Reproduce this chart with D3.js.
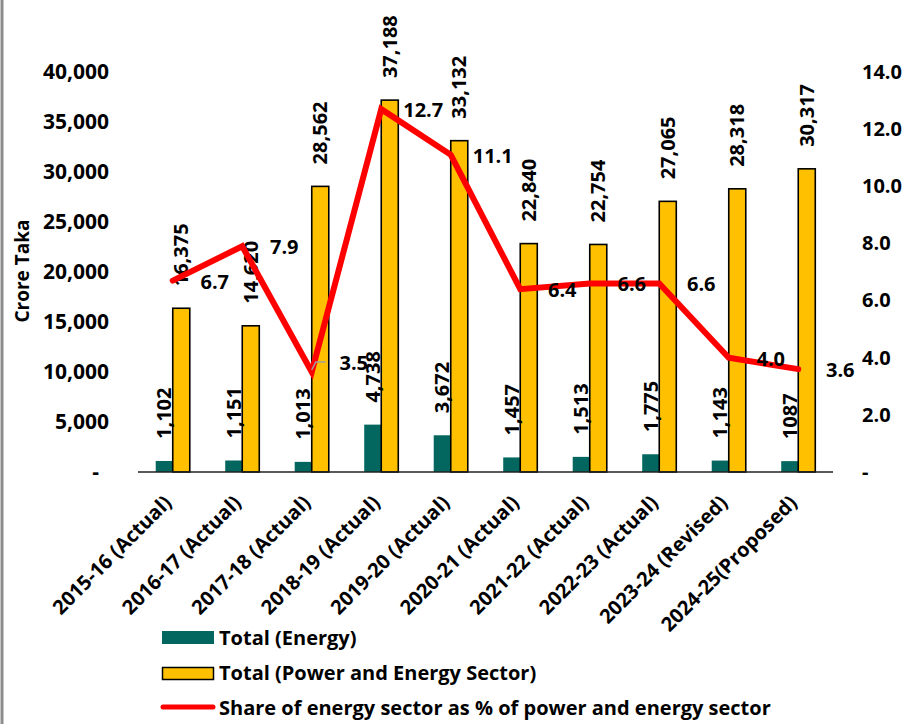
<!DOCTYPE html>
<html>
<head>
<meta charset="utf-8">
<script src="https://cdn.jsdelivr.net/npm/d3@7"></script>
<style>
  html, body { margin: 0; padding: 0; background: #fff; }
  svg { display: block; font-family: "Open Sans", Lato, sans-serif; font-weight: 700; }
</style>
</head>
<body>
<svg id="chart" width="907" height="724"></svg>
<script>
// Fiscal years
const categories = [
  "2015-16 (Actual)", "2016-17 (Actual)", "2017-18 (Actual)", "2018-19 (Actual)",
  "2019-20 (Actual)", "2020-21 (Actual)", "2021-22 (Actual)", "2022-23 (Actual)",
  "2023-24 (Revised)", "2024-25(Proposed)"
];
// Allocation, crore Taka
const energyTotal = [1102, 1151, 1013, 4738, 3672, 1457, 1513, 1775, 1143, 1087];
const powerEnergyTotal = [16375, 14620, 28562, 37188, 33132, 22840, 22754, 27065, 28318, 30317];
// Energy share of the power and energy sector, percent
const energyShare = [6.7, 7.9, 3.5, 12.7, 11.1, 6.4, 6.6, 6.6, 4.0, 3.6];
// Axis ticks
const leftTicks = [0, 5000, 10000, 15000, 20000, 25000, 30000, 35000, 40000];
const rightTicks = [0, 2, 4, 6, 8, 10, 12, 14];

const seriesNames = [
  "Total (Energy)",
  "Total (Power and Energy Sector)",
  "Share of energy sector as % of power and energy sector"
];
const colors = { energy: "#03675F", total: "#FFC000", share: "#FF0000" };
const FONT = "'Open Sans', Lato, sans-serif";

const svg = d3.select("#chart");

// Frame edge on the left
svg.append("line")
  .attr("x1", 2).attr("x2", 2).attr("y1", 0).attr("y2", 724)
  .attr("stroke", "#8c8c8c").attr("stroke-width", 3);

const x = d3.scaleBand().domain(categories).range([138, 833]);
const yL = d3.scaleLinear().domain([0, 40000]).range([472, 72]);
const yR = d3.scaleLinear().domain([0, 14]).range([472, 72]);
const barW = x.bandwidth() * 0.245;
const cx = d => x(d) + x.bandwidth() / 2;

const fmtComma = d3.format(",");
const fmtLeft = v => v === 0 ? "-" : fmtComma(v);
const fmtRight = v => v === 0 ? "-" : d3.format(".1f")(v);
// Energy labels as printed (the last value carries no thousands separator)
const energyLabel = (v, i) => i === energyTotal.length - 1 ? String(v) : fmtComma(v);

// Left axis
const leftAxis = d3.axisLeft(yL).tickValues(leftTicks).tickFormat(fmtLeft).tickSize(0).tickPadding(0);
const gL = svg.append("g").attr("transform", "translate(109,0)").call(leftAxis);
gL.select(".domain").remove();
gL.selectAll("text").attr("font-size", 21).attr("font-family", FONT).attr("font-weight", 700).attr("fill", "#000");
gL.selectAll(".tick").filter(d => d === 0).select("text").attr("dx", -10);

// Right axis
const rightAxis = d3.axisRight(yR).tickValues(rightTicks).tickFormat(fmtRight).tickSize(0).tickPadding(0);
const gR = svg.append("g").attr("transform", "translate(862,0)").call(rightAxis);
gR.select(".domain").remove();
gR.selectAll("text").attr("font-size", 20).attr("font-family", FONT).attr("font-weight", 700).attr("fill", "#000");

// Axis title
svg.append("text")
  .attr("transform", "translate(22,271) rotate(-90)")
  .attr("text-anchor", "middle").attr("dy", "0.35em")
  .attr("font-size", 19).text("Crore Taka");

// Bars
svg.append("g").selectAll("rect").data(categories).join("rect")
  .attr("x", d => cx(d) - barW)
  .attr("y", (d, i) => yL(energyTotal[i]))
  .attr("width", barW)
  .attr("height", (d, i) => yL(0) - yL(energyTotal[i]))
  .attr("fill", colors.energy);

svg.append("g").selectAll("rect").data(categories).join("rect")
  .attr("x", d => cx(d))
  .attr("y", (d, i) => yL(powerEnergyTotal[i]))
  .attr("width", barW)
  .attr("height", (d, i) => yL(0) - yL(powerEnergyTotal[i]))
  .attr("fill", colors.total)
  .attr("stroke", "#000").attr("stroke-width", 1.6);

// Category axis line
svg.append("line")
  .attr("x1", 138).attr("x2", 833).attr("y1", yL(0)).attr("y2", yL(0))
  .attr("stroke", "#222").attr("stroke-width", 1.5);

// Category labels
svg.append("g").selectAll("text").data(categories).join("text")
  .attr("transform", d => `translate(${cx(d)},${yL(0) + 32}) rotate(-45)`)
  .attr("text-anchor", "end")
  .attr("font-size", 20)
  .text(d => d);

// Bar value labels
svg.append("g").selectAll("text").data(categories).join("text")
  .attr("transform", (d, i) => `translate(${cx(d) - barW / 2},${yL(energyTotal[i]) - 22}) rotate(-90)`)
  .attr("dy", "0.35em").attr("font-size", 20)
  .text((d, i) => energyLabel(energyTotal[i], i));

svg.append("g").selectAll("text").data(categories).join("text")
  .attr("transform", (d, i) => `translate(${cx(d) + barW / 2},${yL(powerEnergyTotal[i]) - 22}) rotate(-90)`)
  .attr("dy", "0.35em").attr("font-size", 20)
  .text((d, i) => fmtComma(powerEnergyTotal[i]));

// Share line
const line = d3.line().x(d => cx(d[0])).y(d => yR(d[1]));
svg.append("path")
  .datum(categories.map((c, i) => [c, energyShare[i]]))
  .attr("d", line)
  .attr("fill", "none").attr("stroke", colors.share)
  .attr("stroke-width", 6).attr("stroke-linecap", "round");

// Leader for the 2017-18 share label
const lx = cx(categories[2]), ly = yR(energyShare[2]);
svg.append("path")
  .attr("d", `M${lx},${ly - 2} L${lx + 4},${ly - 10} L${lx + 14},${ly - 10}`)
  .attr("fill", "none").attr("stroke", "#a0a0a0").attr("stroke-width", 1.5);

// Share value labels
svg.append("g").selectAll("text").data(categories).join("text")
  .attr("x", d => cx(d) + 42)
  .attr("y", (d, i) => yR(energyShare[i]) + (i === 2 ? -9 : 1))
  .attr("text-anchor", "middle").attr("dy", "0.35em")
  .attr("font-size", 20)
  .text((d, i) => d3.format(".1f")(energyShare[i]));

// Legend
const leg = svg.append("g");
leg.append("rect").attr("x", 162).attr("y", 631).attr("width", 52).attr("height", 13).attr("fill", colors.energy);
leg.append("rect").attr("x", 162.5).attr("y", 667.5).attr("width", 51).attr("height", 12)
  .attr("fill", colors.total).attr("stroke", "#000").attr("stroke-width", 1.5);
leg.append("line").attr("x1", 163).attr("x2", 213).attr("y1", 707).attr("y2", 707)
  .attr("stroke", colors.share).attr("stroke-width", 5).attr("stroke-linecap", "round");
leg.selectAll("text").data(seriesNames).join("text")
  .attr("x", 219).attr("y", (d, i) => [638, 673, 708][i])
  .attr("dy", "0.35em").attr("font-size", 20)
  .text(d => d);
</script>
</body>
</html>
